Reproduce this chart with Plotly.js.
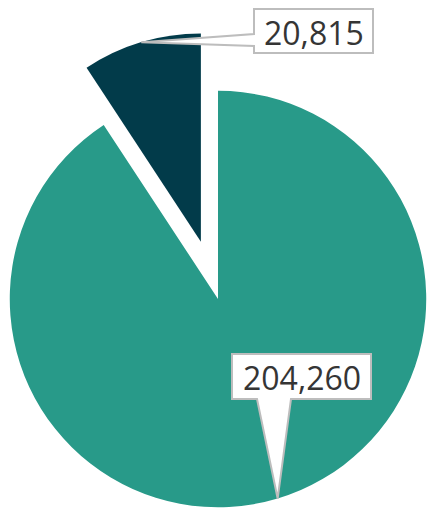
<!DOCTYPE html>
<html><head><meta charset="utf-8">
<script src="https://cdn.plot.ly/plotly-3.0.1.min.js"></script>
<style>
html,body{margin:0;padding:0;overflow:hidden;width:433px;height:512px;background:#fff;}
#chart{position:absolute;left:-60px;top:0px;width:560px;height:600px;}
</style></head><body><div id="chart"></div>
<script>
// ---- data ----
const categories = ["Category A", "Category B"];
const values = [204260, 20815];
const valueLabels = ["204,260", "20,815"];
const sliceColors = ["#289a89", "#023b4a"];
const pulls = [0, 0.287];

// ---- layout constants (pixels of the 433x512 view) ----
const DIV_W = 560, DIV_H = 600, OFF_X = -60, OFF_Y = 0;
const PIE_CX = 218, PIE_CY = 299, PIE_BOX = 536;
// callout boxes [left, top, right, bottom] and wedge base
const boxes = [
  {box: [232, 354, 371, 399], side: "bottom", base: [257, 291]},
  {box: [254, 9, 373, 53], side: "left", base: [34, 46]}
];

const total = values.reduce((a, b) => a + b, 0);
const maxPull = Math.max(...pulls);
const r = PIE_BOX / (2 + 2 * maxPull);
const cx = PIE_CX - OFF_X, cy = PIE_CY - OFF_Y; // in div pixels
const domX = [(cx - PIE_BOX / 2) / DIV_W, (cx + PIE_BOX / 2) / DIV_W];
const domY = [1 - (cy + PIE_BOX / 2) / DIV_H, 1 - (cy - PIE_BOX / 2) / DIV_H];
const px = x => (x - OFF_X) / DIV_W;
const py = y => 1 - (y - OFF_Y) / DIV_H;
const fromDiv = (x, y) => [x / DIV_W, 1 - y / DIV_H];

let cum = 0;
const shapes = [], annotations = [];
values.forEach((v, i) => {
  const frac = v / total;
  const mid = (cum + frac / 2) * 2 * Math.PI;
  cum += frac;
  const d = r * (1 + pulls[i]);
  const tip = fromDiv(cx + d * Math.sin(mid), cy - d * Math.cos(mid));
  const b = boxes[i];
  const [L, T, R, B] = b.box;
  let pts;
  if (b.side === "bottom") {
    pts = [[px(L), py(T)], [px(R), py(T)], [px(R), py(B)], [px(b.base[1]), py(B)], tip,
           [px(b.base[0]), py(B)], [px(L), py(B)]];
  } else {
    pts = [[px(L), py(T)], [px(R), py(T)], [px(R), py(B)], [px(L), py(B)], [px(L), py(b.base[1])], tip,
           [px(L), py(b.base[0])]];
  }
  const path = "M " + pts.map(p => p[0].toFixed(5) + "," + p[1].toFixed(5)).join(" L ") + " Z";
  shapes.push({type: "path", xref: "paper", yref: "paper", path: path, layer: "above",
    fillcolor: "#ffffff", line: {color: "#bdbdbd", width: 2}});
  annotations.push({xref: "paper", yref: "paper", x: px((L + R) / 2), y: py((T + B) / 2 + 1),
    xanchor: "center", yanchor: "middle", showarrow: false, text: valueLabels[i],
    font: {family: "Open Sans", size: 32, color: "#353535"}});
});

const data = [{
  type: "pie", labels: categories, values: values, sort: false, direction: "clockwise",
  rotation: 0, pull: pulls, marker: {colors: sliceColors, line: {width: 0}},
  textinfo: "none", hoverinfo: "label+value", showlegend: false,
  domain: {x: domX, y: domY}
}];
const layout = {
  width: DIV_W, height: DIV_H, autosize: false,
  margin: {l: 0, r: 0, t: 0, b: 0, pad: 0},
  paper_bgcolor: "rgba(0,0,0,0)", plot_bgcolor: "rgba(0,0,0,0)",
  showlegend: false, shapes: shapes, annotations: annotations
};
Plotly.newPlot("chart", data, layout, {displayModeBar: false, staticPlot: true});
</script></body></html>
